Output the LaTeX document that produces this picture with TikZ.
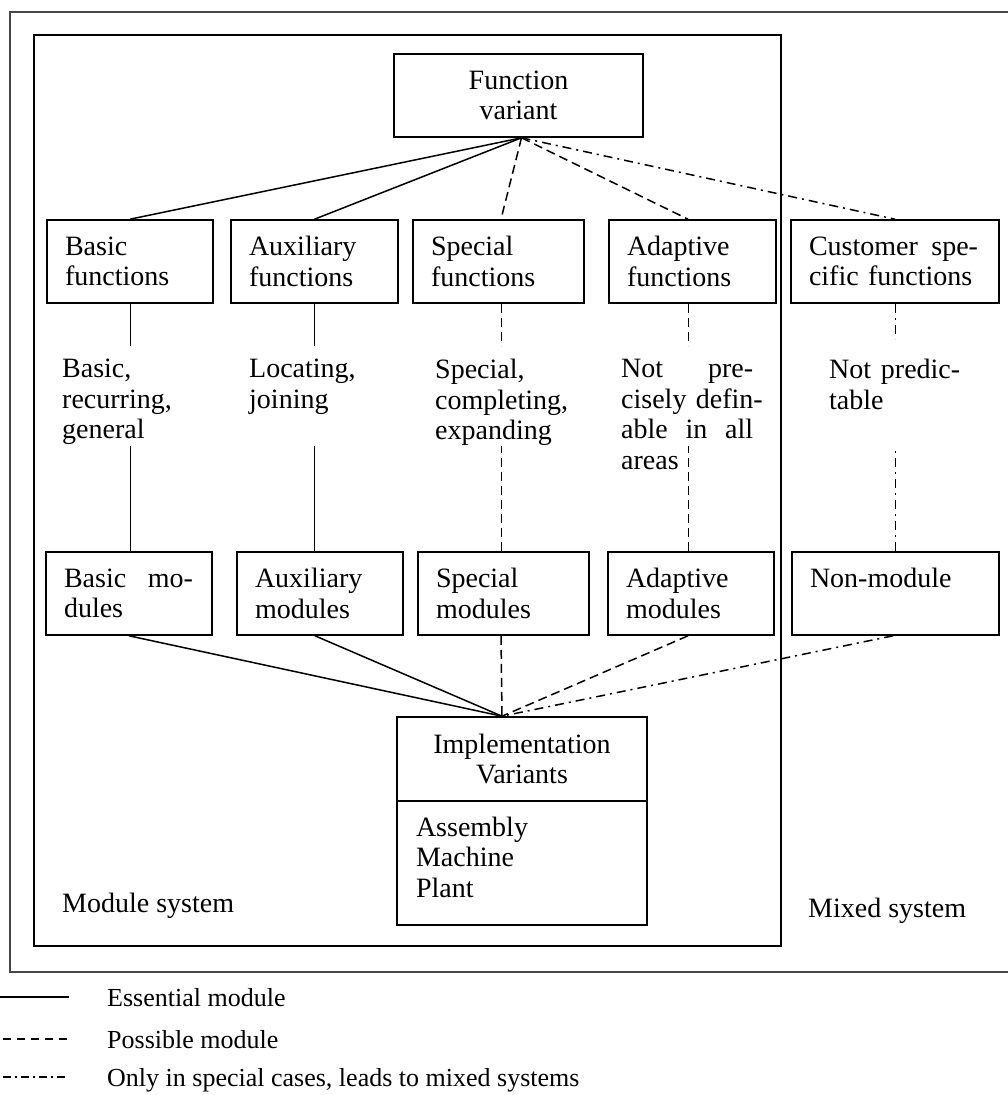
\documentclass[tikz,border=0pt]{standalone}
\usepackage{fontspec}
\setmainfont{Liberation Serif}
\newcommand{\jline}[2]{\makebox[#1][s]{#2}}
\begin{document}
\begin{tikzpicture}[x=1pt,y=-1pt,
  every node/.style={font=\fontsize{28}{30.5}\selectfont},
  box/.style={draw, line width=1.6pt, minimum height=83pt, inner xsep=18pt, inner ysep=0pt, align=left},
  cbox/.style={box, align=center},
  txt/.style={anchor=north west, inner sep=0pt, align=left},
  lbl/.style={anchor=base west, inner sep=0pt},
  legendlbl/.style={lbl, font=\fontsize{26}{30}\selectfont},
  essline/.style={line width=1.5pt},
  possline/.style={line width=1.5pt, dash pattern=on 9pt off 5pt},
  mixline/.style={line width=1.5pt, dash pattern=on 9pt off 5pt on 2pt off 5pt},
  vline/.style={line width=1pt},
  outerframe/.style={draw=black!72, line width=2.2pt},
  innerframe/.style={draw=black, line width=2pt}
]
\useasboundingbox (0,0) rectangle (1008,1095);

% frames
\draw[outerframe] (1008,12) -- (10,12) -- (10,972) -- (1008,972);
\draw[innerframe] (34,35) rectangle (781,946);

% top node
\node[cbox, minimum width=249pt, text width=213pt] (fv) at (518.5,95.5) {Function\\variant};
\coordinate (apex) at ([xshift=3pt]fv.south);

% function boxes
\node[box, minimum width=166pt, text width=130pt] (bf) at (130,261.5) {Basic\\functions};
\node[box, minimum width=167pt, text width=131pt] (af) at (314.5,261.5) {Auxiliary\\functions};
\node[box, minimum width=171pt, text width=135pt] (sf) at (498.5,261.5) {Special\\functions};
\node[box, minimum width=167pt, text width=131pt] (adf) at (692.5,261.5) {Adaptive\\functions};
\node[box, minimum width=208pt, text width=172pt] (cf) at (895,261.5) {\jline{169pt}{Customer\hfill spe-}\\cific functions};

% module boxes
\node[box, minimum width=166pt, text width=130pt] (bm) at (129,593.5) {\jline{129pt}{Basic\hfill mo-}\\dules};
\node[box, minimum width=166pt, text width=130pt] (am) at (320,593.5) {Auxiliary\\modules};
\node[box, minimum width=171pt, text width=135pt] (sm) at (503.5,593.5) {Special\\modules};
\node[box, minimum width=166pt, text width=130pt] (adm) at (691,593.5) {Adaptive\\modules};
\node[box, minimum width=207pt, text width=171pt] (nm) at (895.5,593.5) {Non-module\\\mbox{}};

% implementation variants: heading part and list part
\node[cbox, minimum width=250pt, minimum height=84pt, text width=214pt] (iv) at (522,759) {Implementation\\Variants};
\node[box, minimum width=250pt, minimum height=124pt, text width=212pt, inner xsep=19pt, text depth=73pt] (ivl) at (522,863) {Assembly\\Machine\\Plant};
\coordinate (join) at ([xshift=-20pt]iv.north);

% texts between the rows
\node[txt] (t1) at (62,359) {Basic,\\recurring,\\general};
\node[txt] (t2) at (249,359) {Locating,\\joining};
\node[txt] (t3) at (435,359) {Special,\\completing,\\expanding};
\node[txt, text width=132pt] (t4) at (621,359) {\jline{132pt}{Not\hfill pre-}\\\mbox{cisely defin-}\\\jline{132pt}{able\hfill in\hfill all}\\areas};
\node[txt, text width=131pt] (t5) at (829,359) {\jline{131pt}{Not\hfill predic-}\\table};

% system labels
\node[lbl] (ms) at (62,912) {Module system};
\node[lbl] (mx) at (808,917) {Mixed system};

% connectors from the function variant
\draw[essline] (apex) -- (bf.north);
\draw[essline] (apex) -- (af.north);
\draw[possline] (apex) -- ([xshift=2.5pt]sf.north);
\draw[possline] (apex) -- ([xshift=-4.5pt]adf.north);
\draw[mixline] (apex) -- (cf.north);

% function to module
\draw[essline,vline] (bf.south) -- ++(0,42);
\draw[essline,vline] (bf.south |- bm.north) -- ++(0,-105);
\draw[essline,vline] (af.south) -- ++(0,42);
\draw[essline,vline] (af.south |- am.north) -- ++(0,-105);
\draw[possline,vline] ([xshift=2.5pt]sf.south) -- ++(0,42);
\draw[possline,vline] ([xshift=2.5pt]sf.south |- sm.north) -- ++(0,-105);
\draw[possline,vline] ([xshift=-4.5pt]adf.south) -- ++(0,42);
\draw[possline,vline] ([xshift=-4.5pt]adf.south |- adm.north) -- ++(0,-105);
\draw[mixline,vline] (cf.south) -- ++(0,35);
\draw[mixline,vline] (cf.south |- nm.north) -- ++(0,-102);

% modules to implementation variants
\draw[essline] (bm.south) -- (join);
\draw[essline] ([xshift=-5pt]am.south) -- (join);
\draw[possline] ([xshift=-2.5pt]sm.south) -- (join);
\draw[possline] ([xshift=-3pt]adm.south) -- (join);
\draw[mixline] ([xshift=-2.5pt]nm.south) -- (join);

% legend
\node[legendlbl] (lg1) at (107,1006) {Essential module};
\node[legendlbl] (lg2) at (107,1048) {Possible module};
\node[legendlbl] (lg3) at (107,1086) {Only in special cases, leads to mixed systems};
\coordinate (l1a) at (0,997);   \coordinate (l1b) at (69,997);
\coordinate (l2a) at (3,1039);  \coordinate (l2b) at (67,1039);
\coordinate (l3a) at (3,1077);  \coordinate (l3b) at (67,1077);
\draw[essline] (l1a) -- (l1b);
\draw[line width=1.2pt, dash pattern=on 8pt off 6pt] (l2a) -- (l2b);
\draw[line width=1.2pt, dash pattern=on 8pt off 4pt on 2pt off 4pt] (l3a) -- (l3b);
\end{tikzpicture}
\end{document}
